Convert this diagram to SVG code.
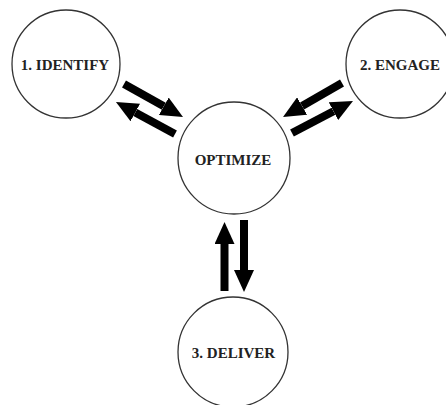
<svg xmlns="http://www.w3.org/2000/svg" width="446" height="405" viewBox="0 0 446 405">
<style>
.node circle{fill:#fff;stroke:#333;stroke-width:1.3}
.node text{font-family:"Liberation Serif","Times New Roman",serif;font-weight:bold;font-size:15px;fill:#222;text-anchor:middle}
.conn line{stroke:#000;stroke-width:8;marker-end:url(#head)}
</style>
<defs>
<marker id="head" markerUnits="userSpaceOnUse" viewBox="0 0 22 20" refX="0" refY="10" markerWidth="22" markerHeight="20" orient="auto">
<path d="M0,0 L22,10 L0,20 Z" fill="#000"/>
</marker>
</defs>
<rect width="446" height="405" fill="#fff"/>
<g id="identify" class="node"><circle cx="66" cy="64" r="54"/><text x="65" y="70">1. IDENTIFY</text></g>
<g id="engage" class="node"><circle cx="400" cy="64" r="54"/><text x="400" y="70">2. ENGAGE</text></g>
<g id="optimize" class="node"><circle cx="234" cy="158" r="56"/><text x="233" y="165">OPTIMIZE</text></g>
<g id="deliver" class="node"><circle cx="233" cy="352" r="55"/><text x="233.5" y="358">3. DELIVER</text></g>
<g id="connectors" class="conn">
<line x1="124" y1="84" x2="163.8" y2="106.3"/>
<line x1="175" y1="134" x2="135.3" y2="112.5"/>
<line x1="342" y1="83" x2="302.1" y2="106"/>
<line x1="292" y1="133" x2="333.5" y2="111.2"/>
<line x1="224.5" y1="291" x2="224.5" y2="244"/>
<line x1="244" y1="220" x2="244" y2="270"/>
</g>
</svg>
